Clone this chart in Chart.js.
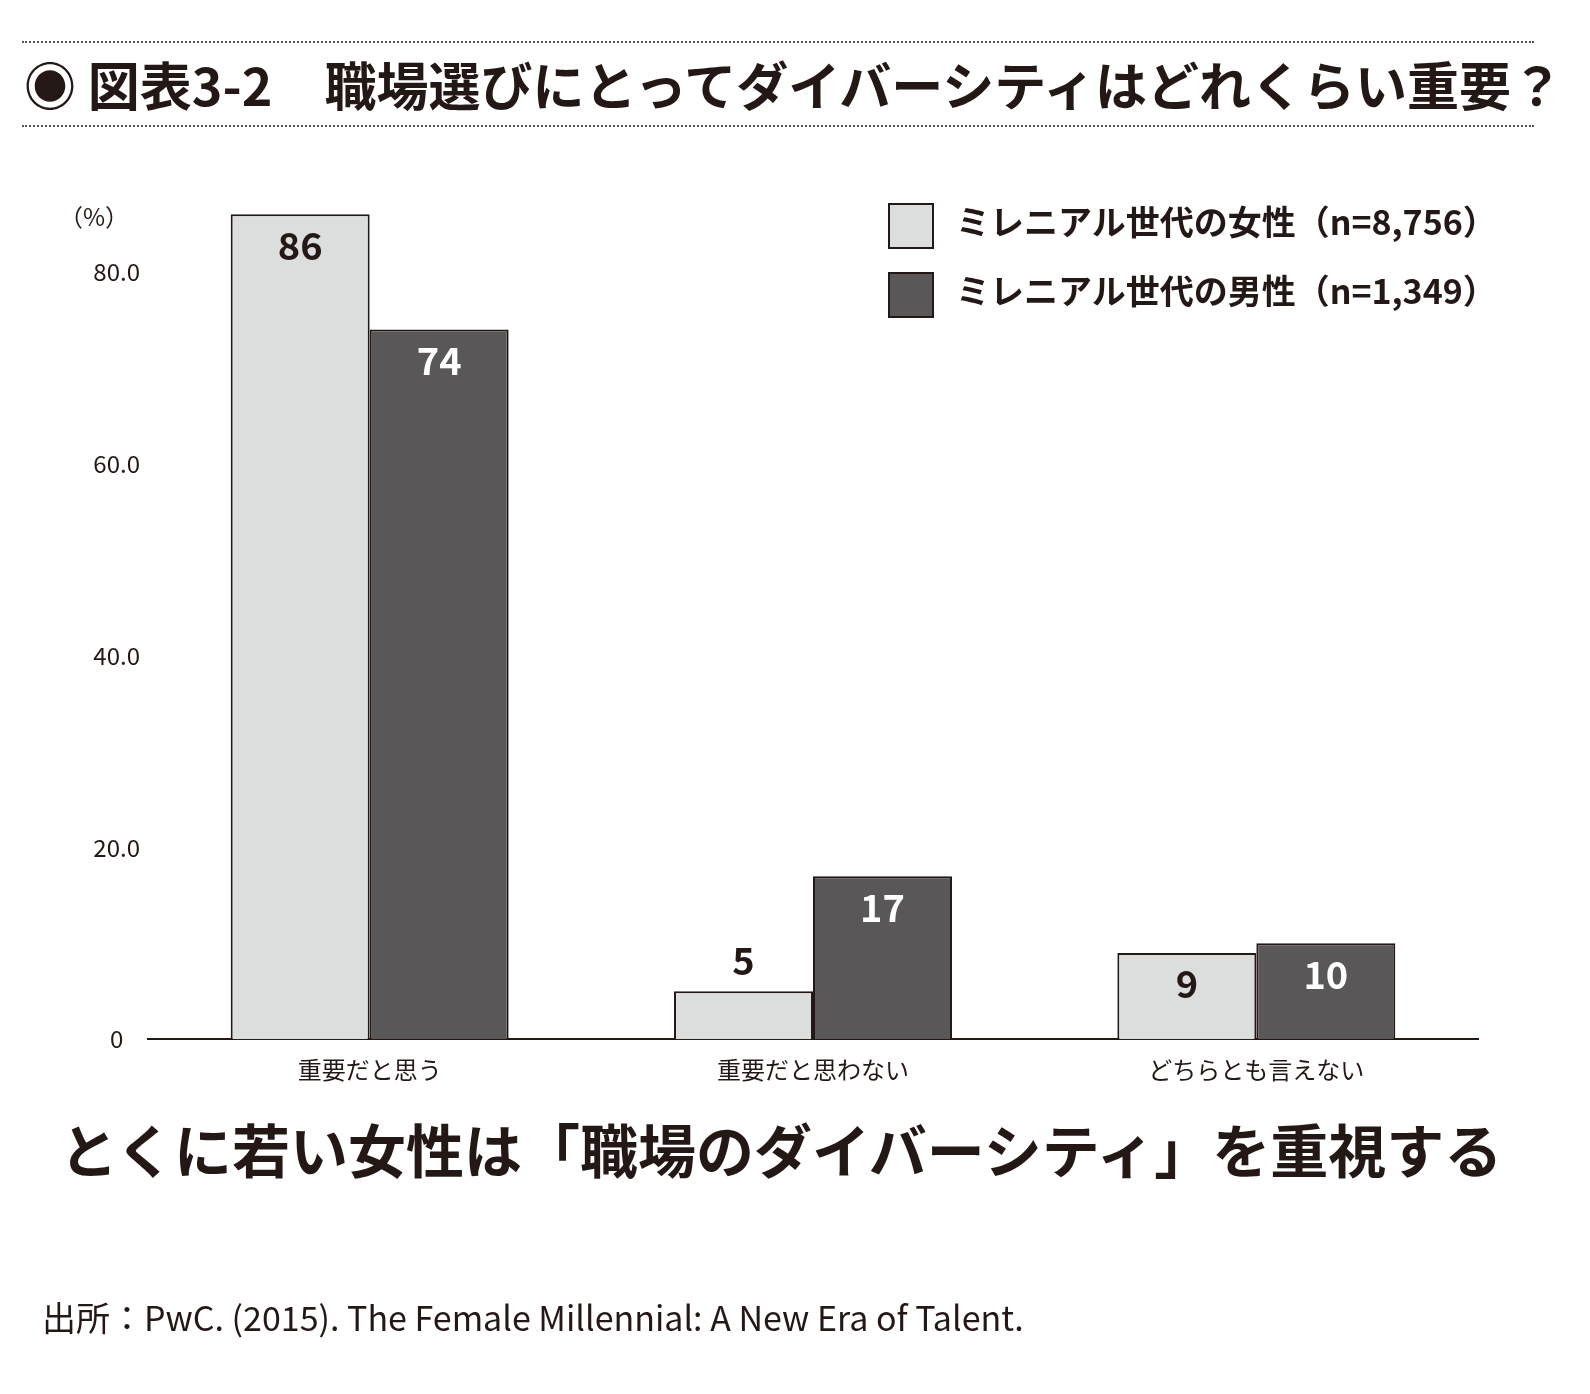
<!DOCTYPE html>
<html>
<head>
<meta charset="utf-8">
<script src="https://cdn.jsdelivr.net/npm/chart.js@4"></script>
<style>
  body { margin: 0; background: #fff; font-family: "Noto Sans CJK JP", sans-serif; color: #231815; }
  #wrap { position: relative; width: 1590px; height: 1394px; overflow: hidden; }
  canvas { position: absolute; left: 0; top: 0; }
  .dots { position: absolute; left: 22px; width: 1512px; border-top: 2px dotted #555; }
  .title { position: absolute; left: 24px; top: 46px; font-size: 52px; font-weight: bold; white-space: nowrap; }
  .legend { position: absolute; left: 888px; font-size: 34px; font-weight: bold; white-space: nowrap; }
  .legend span { display: inline-block; width: 42px; height: 42px; border: 2px solid #231815; vertical-align: middle; margin-right: 22px; }
  .sub { position: absolute; left: 0; width: 1562px; text-align: center; top: 1106px; font-size: 58px; font-weight: bold; }
  .src { position: absolute; left: 42px; top: 1292px; font-size: 34px; }
</style>
</head>
<body>
<div id="wrap">
  <canvas id="chart" width="1590" height="1394"></canvas>
  <div class="dots" style="top:41px"></div>
  <div class="dots" style="top:125px"></div>
  <div class="title">◉ 図表3-2　職場選びにとってダイバーシティはどれくらい重要？</div>
  <div class="legend" style="top:196px"><span style="background:#dcdddd"></span>ミレニアル世代の女性（n=8,756）</div>
  <div class="legend" style="top:265px"><span style="background:#595757"></span>ミレニアル世代の男性（n=1,349）</div>
  <div class="sub">とくに若い女性は「職場のダイバーシティ」を重視する</div>
  <div class="src">出所：PwC. (2015). The Female Millennial: A New Era of Talent.</div>
</div>
<script>
/* ===== DATA ===== */
const categories = ['重要だと思う', '重要だと思わない', 'どちらとも言えない'];
const femaleValues = [86, 5, 9];
const maleValues = [74, 17, 10];
const yTicks = [0, 20, 40, 60, 80];

/* ===== LABEL PLUGIN ===== */
const barLabels = {
    id: 'barLabels',
    afterDatasetsDraw(chart) {
        const ctx = chart.ctx;
        ctx.save();
        ctx.font = 'bold 38px "Noto Sans CJK JP"';
        ctx.textAlign = 'center';
        ctx.textBaseline = 'middle';
        chart.data.datasets.forEach((ds, di) => {
            chart.getDatasetMeta(di).data.forEach((bar, i) => {
                const v = ds.data[i];
                const inside = (chart.scales.y.getPixelForValue(0) - bar.y) > 70;
                ctx.fillStyle = di === 1 ? '#fff' : '#231815';
                ctx.fillText(v, bar.x, inside ? bar.y + 31 : bar.y - 31);
            });
        });
        // (%) unit label
        ctx.font = '24px "Noto Sans CJK JP"';
        ctx.fillStyle = '#231815';
        ctx.fillText('（%）', 94, 217);
        ctx.restore();
    }
};

new Chart(document.getElementById('chart'), {
    type: 'bar',
    data: {
        labels: categories,
        datasets: [
            { data: femaleValues, backgroundColor: '#dcdddd', borderColor: '#231815', borderWidth: 2 },
            { data: maleValues, backgroundColor: '#595757', borderColor: '#231815', borderWidth: 2 }
        ]
    },
    plugins: [barLabels],
    options: {
        responsive: false,
        animation: false,
        layout: { padding: { left: 20, right: 112, top: 176, bottom: 302 } },
        plugins: { legend: { display: false }, tooltip: { enabled: false } },
        datasets: { bar: { barPercentage: 1, categoryPercentage: 0.627 } },
        scales: {
            x: {
                grid: { display: false },
                border: { display: true, color: '#231815', width: 2 },
                ticks: { color: '#231815', font: { size: 24, family: 'Noto Sans CJK JP' }, padding: 8 }
            },
            y: {
                min: 0, max: 90,
                grid: { display: false },
                border: { display: false },
                afterFit: s => { s.width = 128; },
                afterBuildTicks: s => { s.ticks = yTicks.map(v => ({ value: v })); },
                ticks: {
                    crossAlign: 'center', padding: 0,
                    color: '#231815', font: { size: 24, family: 'Noto Sans CJK JP' },
                    callback: v => v === 0 ? '0' : v.toFixed(1)
                }
            }
        }
    }
});
</script>
</body>
</html>
